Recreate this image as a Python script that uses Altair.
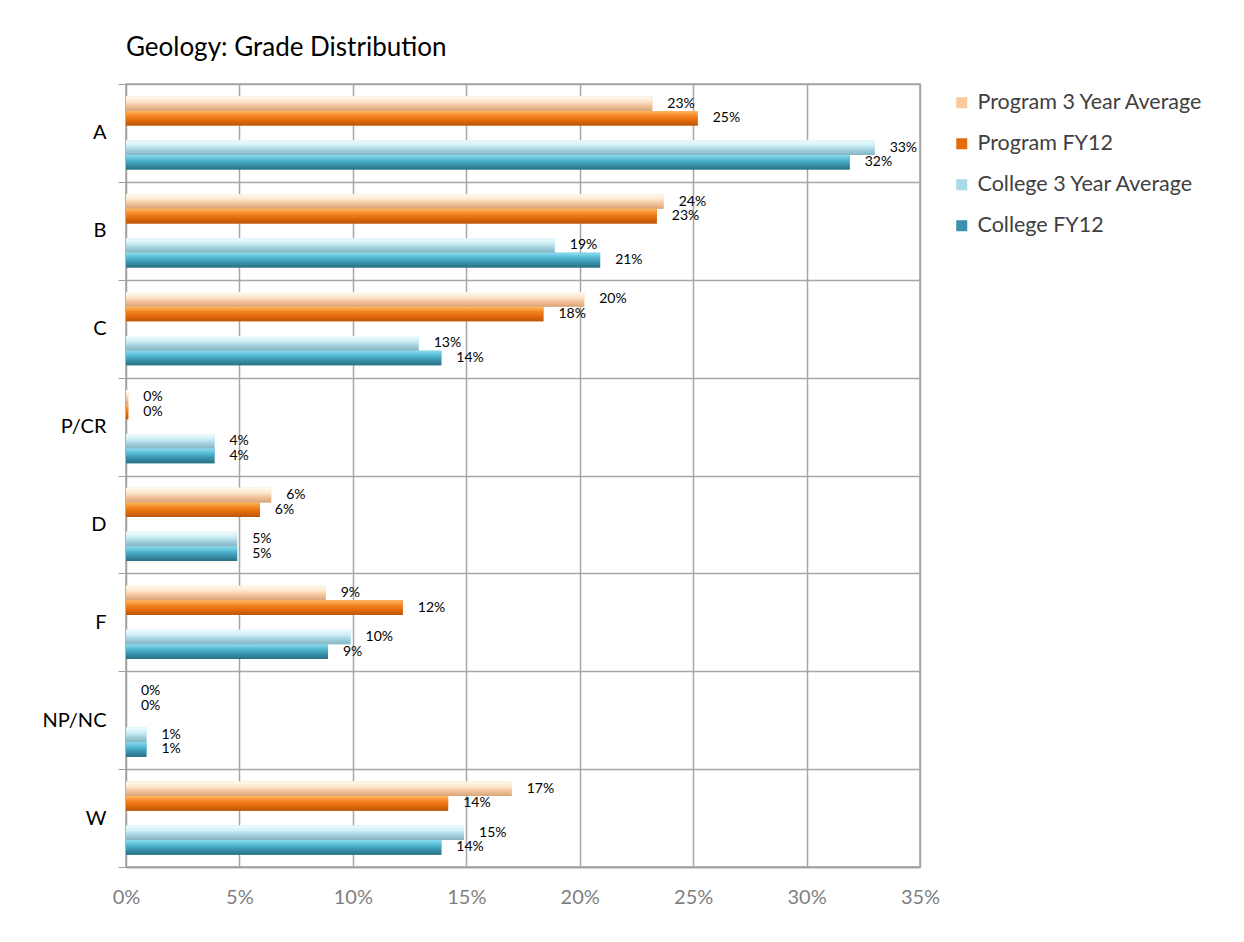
import altair as alt
import pandas as pd

categories = ["A", "B", "C", "P/CR", "D", "F", "NP/NC", "W"]
series = ["Program 3 Year Average", "Program FY12", "College 3 Year Average", "College FY12"]

program_3yr = [23.2, 23.7, 20.2, 0.1, 6.4, 8.8, 0.0, 17.0]
program_fy12 = [25.2, 23.4, 18.4, 0.1, 5.9, 12.2, 0.0, 14.2]
college_3yr = [33.0, 18.9, 12.9, 3.9, 4.9, 9.9, 0.9, 14.9]
college_fy12 = [31.9, 20.9, 13.9, 3.9, 4.9, 8.9, 0.9, 13.9]

solid_colors = ["#F9C89B", "#E46C0A", "#A9DCE8", "#3A93AD"]
gradients = {
    "Program 3 Year Average": ["#FFFBF2", "#FCE6CC", "#F2C29A", "#D9A378"],
    "Program FY12": ["#FFB861", "#F28420", "#E26A0A", "#B9560A"],
    "College 3 Year Average": ["#F0FCFE", "#CDEFF6", "#A3D2DE", "#86B4C2"],
    "College FY12": ["#8ADDF0", "#52B6D0", "#3A93AD", "#2A6F82"],
}

rows = []
for s, vals in zip(series, [program_3yr, program_fy12, college_3yr, college_fy12]):
    for c, v in zip(categories, vals):
        rows.append({"grade": c, "series": s, "value": v, "label": f"{round(v)}%"})
df = pd.DataFrame(rows)

offset_domain = ["Program 3 Year Average", "Program FY12", "_gap", "College 3 Year Average", "College FY12"]

base = alt.Chart(df).encode(
    y=alt.Y(
        "grade:N",
        sort=categories,
        scale=alt.Scale(domain=categories, paddingInner=0, paddingOuter=0),
        axis=alt.Axis(
            title=None, grid=True, tickBand="extent", tickSize=8, tickColor="#a0a0a0",
            domainColor="#a0a0a0", gridColor="#a6a6a6", gridWidth=1.5,
            labelFont="Lato", labelFontSize=20, labelColor="#000000", labelPadding=12,
        ),
    ),
    yOffset=alt.YOffset(
        "series:N",
        scale=alt.Scale(domain=offset_domain, paddingInner=0, paddingOuter=0.84),
    ),
    x=alt.X(
        "value:Q",
        scale=alt.Scale(domain=[0, 35], nice=False),
        axis=alt.Axis(
            title=None, values=[0, 5, 10, 15, 20, 25, 30, 35], labelExpr="datum.value + '%'",
            grid=True, ticks=False, gridColor="#a6a6a6", gridWidth=1.5, domainColor="#a0a0a0",
            domainWidth=1.5, labelFont="Lato", labelFontSize=20, labelColor="#7f7f7f", labelPadding=20,
            labelFlush=False,
        ),
    ),
)

legend_layer = base.mark_bar().encode(
    color=alt.Color(
        "series:N",
        scale=alt.Scale(domain=series, range=solid_colors),
        legend=alt.Legend(
            title=None, orient="none", legendX=825, legendY=8, symbolType="square", symbolSize=121,
            symbolStrokeWidth=0, labelFont="Lato", labelFontSize=21.5, labelColor="#404040",
            rowPadding=18, labelOffset=5, labelLimit=400,
        ),
    )
)

grad_layers = []
for s in series:
    st = gradients[s]
    grad = alt.LinearGradient(
        gradient="linear", x1=0, y1=0, x2=0, y2=1,
        stops=[
            alt.GradientStop(offset=0, color=st[0]),
            alt.GradientStop(offset=0.35, color=st[1]),
            alt.GradientStop(offset=0.65, color=st[2]),
            alt.GradientStop(offset=1, color=st[3]),
        ],
    )
    grad_layers.append(base.transform_filter(alt.datum.series == s).mark_bar(fill=grad))

labels = base.mark_text(align="left", baseline="middle", dx=15, fontSize=14, font="Lato", color="#000000").encode(
    text="label:N"
)

chart = alt.layer(legend_layer, *grad_layers, labels).properties(
    width=794,
    height=783,
    title=alt.TitleParams(
        "Geology: Grade Distribution", anchor="start", frame="group", fontSize=26, font="Lato",
        fontWeight="normal", color="#000000", offset=13,
    ),
    padding={"left": 33, "top": 27, "right": 5, "bottom": 5},
).configure_view(stroke="#a0a0a0", strokeWidth=1.5)

chart.save("out.html", embed_options={"renderer": "svg", "actions": False})
